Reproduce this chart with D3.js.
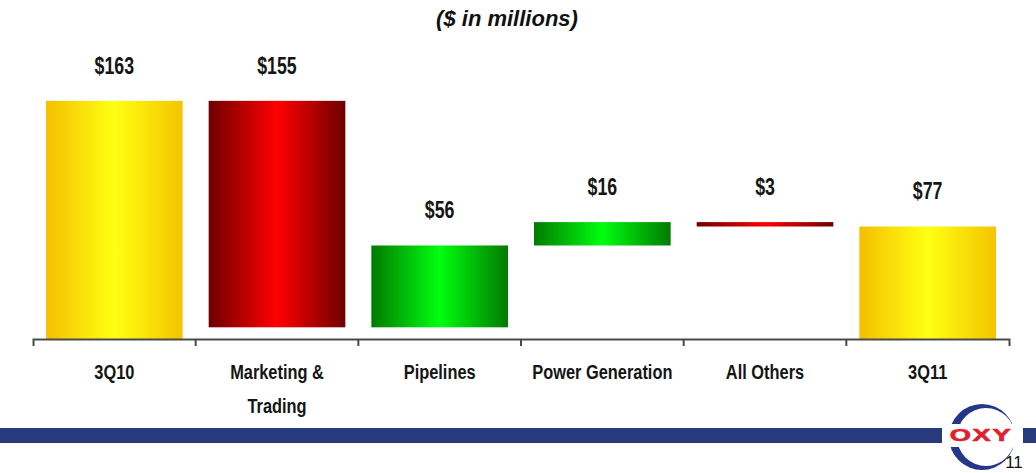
<!DOCTYPE html>
<html>
<head>
<meta charset="utf-8">
<script src="https://cdn.jsdelivr.net/npm/d3@7/dist/d3.min.js"></script>
<style>
  html, body { margin: 0; padding: 0; background: #fff; }
  svg { display: block; }
  .lbl { font-family: "Liberation Sans", Arial, sans-serif; font-weight: bold; fill: #151515; }
</style>
</head>
<body>
<svg id="chart" width="1036" height="473"></svg>
<script>
// Segment earnings bridge, 3Q10 to 3Q11 ($ in millions)
const categories = ["3Q10", "Marketing & Trading", "Pipelines", "Power Generation", "All Others", "3Q11"];
const changes    = [163, -155, 56, 16, -3, 77];
const barKinds   = ["total", "delta", "delta", "delta", "delta", "total"];
const valueLabels = changes.map(v => "$" + Math.abs(v));
const titleText = "($ in millions)";

// Waterfall: totals start at zero, deltas float on the running total
let running = 0;
const bars = categories.map((c, i) => {
  const v = changes[i];
  let y0, y1, kind;
  if (barKinds[i] === "total") { y0 = 0; y1 = v; running = v; kind = "total"; }
  else { y0 = running; y1 = running + v; running = y1; kind = v >= 0 ? "up" : "down"; }
  return { cat: c, v, lo: Math.min(y0, y1), hi: Math.max(y0, y1), kind, label: valueLabels[i] };
});

const svg = d3.select("#chart");

const x = d3.scaleBand().domain(categories).range([33, 1009]).paddingInner(0.16).paddingOuter(0.08);
const y = d3.scaleLinear().domain([0, 180]).range([339, 76]);

// Horizontal shading for each bar type
const gradStops = {
  total: ["#f4bf00", "#ffff12", "#f4c400"],
  up:    ["#007a00", "#00ff10", "#007a00"],
  down:  ["#6e0000", "#ff0000", "#6e0000"]
};
const defs = svg.append("defs");
Object.entries(gradStops).forEach(([k, cols]) => {
  const g = defs.append("linearGradient").attr("id", "grad-" + k)
    .attr("x1", "0%").attr("x2", "100%").attr("y1", "0%").attr("y2", "0%");
  g.append("stop").attr("offset", "0%").attr("stop-color", cols[0]);
  g.append("stop").attr("offset", "50%").attr("stop-color", cols[1]);
  g.append("stop").attr("offset", "100%").attr("stop-color", cols[2]);
});

// Title
svg.append("text")
  .attr("x", 507).attr("y", 26)
  .attr("text-anchor", "middle")
  .style("font-family", "'Liberation Sans', Arial, sans-serif")
  .style("font-weight", "bold").style("font-style", "italic")
  .style("font-size", "22px").style("fill", "#111")
  .text(titleText);

// Bars
svg.append("g").selectAll("rect").data(bars).join("rect")
  .attr("x", d => x(d.cat))
  .attr("width", x.bandwidth())
  .attr("y", d => y(d.hi))
  .attr("height", d => y(d.lo) - y(d.hi))
  .attr("fill", d => "url(#grad-" + d.kind + ")");

// Value labels above each bar
svg.append("g").selectAll("g").data(bars).join("g")
  .attr("transform", d => `translate(${x(d.cat) + x.bandwidth() / 2},${y(d.hi) - 27}) scale(0.74,1)`)
  .append("text")
  .attr("class", "lbl")
  .attr("text-anchor", "middle")
  .style("font-size", "24px")
  .text(d => d.label);

// Category axis
const axis = d3.axisBottom(x).tickSize(0).tickSizeOuter(7).tickFormat("");
const axG = svg.append("g").attr("transform", "translate(0,339)").call(axis);
axG.select(".domain").attr("stroke", "#4a4a4a").attr("stroke-width", 2);

// Separator ticks between categories
const step = x.step();
axG.append("g").selectAll("line").data(categories.slice(1)).join("line")
  .attr("x1", d => x(d) - step * x.paddingInner() / 2)
  .attr("x2", d => x(d) - step * x.paddingInner() / 2)
  .attr("y1", 0).attr("y2", 7)
  .attr("stroke", "#4a4a4a").attr("stroke-width", 2);

// Category names, wrapped after "&"
const catG = svg.append("g").selectAll("g").data(categories).join("g")
  .attr("transform", d => `translate(${x(d) + x.bandwidth() / 2},379) scale(0.78,1)`);
catG.each(function (d) {
  const lines = d.includes(" & ") ? [d.split(" & ")[0] + " &", d.split(" & ")[1]] : [d];
  const t = d3.select(this).append("text").attr("class", "lbl")
    .attr("text-anchor", "middle").style("font-size", "21px");
  lines.forEach((ln, i) => t.append("tspan").attr("x", 0).attr("y", i * 34).text(ln));
});

// Footer band with logo
svg.append("rect").attr("x", 0).attr("y", 428).attr("width", 942).attr("height", 15).attr("fill", "#263a7c");
svg.append("rect").attr("x", 1023).attr("y", 428).attr("width", 13).attr("height", 15).attr("fill", "#263a7c");

const logo = svg.append("g");
const clip = defs.append("clipPath").attr("id", "ring-clip");
clip.append("rect").attr("x", 940).attr("y", 395).attr("width", 90).attr("height", 29);
clip.append("rect").attr("x", 940).attr("y", 447).attr("width", 90).attr("height", 30);
const cx = 982, cy = 437;
const ringPath = d3.path();
ringPath.arc(cx, cy, 33, 0, 2 * Math.PI);
ringPath.moveTo(cx + 4 + 29, cy);
ringPath.arc(cx + 4, cy, 29, 0, 2 * Math.PI);
logo.append("path").attr("d", ringPath.toString())
  .attr("fill", "#24378a").attr("fill-rule", "evenodd")
  .attr("clip-path", "url(#ring-clip)");
logo.append("g").attr("transform", `translate(${cx - 1},441) scale(1.7,1)`)
  .append("text").attr("text-anchor", "middle")
  .style("font-family", "'Liberation Sans', Arial, sans-serif")
  .style("font-weight", "900").style("font-size", "16px")
  .style("letter-spacing", "1px").style("fill", "#e0202c")
  .style("stroke", "#e0202c").style("stroke-width", "0.6px")
  .text("OXY");

// Page number
svg.append("text").attr("x", 1014).attr("y", 468).attr("text-anchor", "middle")
  .style("font-family", "'Liberation Sans', Arial, sans-serif")
  .style("font-size", "17px").style("fill", "#111")
  .text("11");
</script>
</body>
</html>
